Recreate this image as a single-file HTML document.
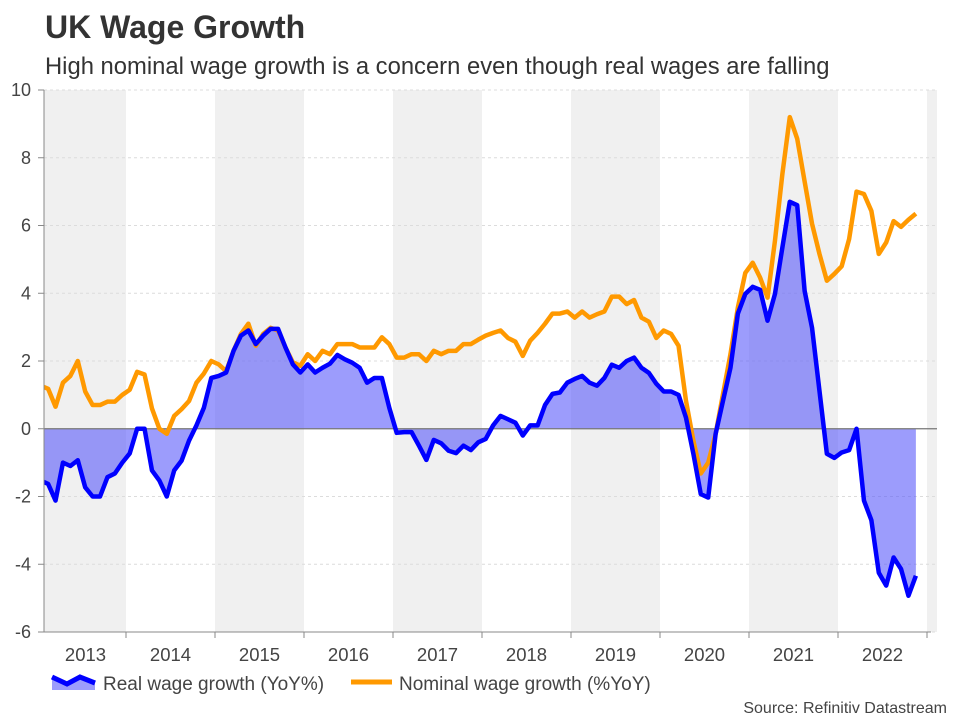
<!DOCTYPE html>
<html><head><meta charset="utf-8"><style>
body{margin:0;background:#fff;width:960px;height:720px;overflow:hidden;font-family:"Liberation Sans",Arial,sans-serif}
</style></head><body>
<svg id="chart" width="960" height="720" xmlns="http://www.w3.org/2000/svg" font-family="Liberation Sans, Arial, sans-serif">
<text x="45" y="38" font-size="32" font-weight="bold" fill="#333">UK Wage Growth</text>
<text x="45" y="74" font-size="23.8" fill="#333">High nominal wage growth is a concern even though real wages are falling</text>
<defs><clipPath id="plotclip"><rect x="44" y="80" width="893" height="560"/></clipPath></defs>
<g id="bands"></g>
<g id="grid"></g>
<g id="series" clip-path="url(#plotclip)"></g>
<g id="axes"></g>
<g>
<g>
<polygon points="52,677 67,684 80,677 95,683 95,690 52,690" fill="rgba(90,90,250,0.6)"/>
<polyline points="52,677 67,684 80,677 95,683" fill="none" stroke="#0000ff" stroke-width="5"/>
<text x="103" y="690" font-size="19" fill="#444">Real wage growth (YoY%)</text></g>
<g>
<line x1="351" y1="682" x2="392" y2="682" stroke="#ff9900" stroke-width="5"/>
<text x="399" y="690" font-size="19" fill="#444">Nominal wage growth (%YoY)</text></g>
</g>
<text x="947" y="713" text-anchor="end" font-size="16" fill="#444">Source: Refinitiv Datastream</text>
</svg>
<script>
const years=[2013,2014,2015,2016,2017,2018,2019,2020,2021,2022];
const yTicks=[-6,-4,-2,0,2,4,6,8,10];
const nominal=[1.27,1.18,0.65,1.36,1.56,2.0,1.1,0.7,0.7,0.8,0.8,1.0,1.15,1.68,1.6,0.6,0.0,-0.15,0.38,0.58,0.82,1.36,1.63,2.0,1.9,1.7,2.3,2.8,3.1,2.45,2.8,2.98,2.9,2.4,1.96,1.86,2.2,2.0,2.3,2.2,2.5,2.5,2.5,2.4,2.4,2.4,2.7,2.5,2.1,2.1,2.2,2.2,2.0,2.3,2.2,2.3,2.3,2.5,2.5,2.63,2.75,2.83,2.9,2.68,2.57,2.15,2.6,2.83,3.1,3.4,3.4,3.46,3.28,3.46,3.28,3.38,3.46,3.9,3.9,3.68,3.8,3.28,3.16,2.68,2.9,2.8,2.45,0.83,-0.35,-1.32,-1.0,-0.15,1.03,2.2,3.58,4.6,4.9,4.46,3.87,5.55,7.52,9.2,8.56,7.3,6.05,5.16,4.37,4.57,4.8,5.6,7.0,6.93,6.43,5.16,5.5,6.13,5.96,6.17,6.35];
const real=[-1.53,-1.63,-2.12,-1.0,-1.1,-0.93,-1.73,-2.0,-2.0,-1.43,-1.32,-1.0,-0.73,0,0,-1.23,-1.53,-2.0,-1.23,-0.94,-0.35,0.1,0.62,1.5,1.56,1.66,2.3,2.75,2.9,2.5,2.75,2.95,2.95,2.4,1.9,1.66,1.9,1.66,1.8,1.92,2.18,2.05,1.95,1.8,1.36,1.5,1.5,0.62,-0.12,-0.1,-0.1,-0.5,-0.92,-0.33,-0.43,-0.65,-0.72,-0.5,-0.63,-0.4,-0.3,0.1,0.38,0.28,0.18,-0.2,0.1,0.1,0.7,1.03,1.07,1.36,1.47,1.56,1.36,1.27,1.5,1.89,1.8,2.0,2.1,1.8,1.65,1.33,1.1,1.1,1.0,0.33,-0.74,-1.93,-2.03,-0.15,0.83,1.8,3.4,3.98,4.19,4.1,3.19,3.98,5.35,6.7,6.6,4.07,2.98,1.12,-0.74,-0.86,-0.7,-0.63,0,-2.12,-2.7,-4.25,-4.63,-3.8,-4.14,-4.93,-4.34];
const NS="http://www.w3.org/2000/svg";
const L=44,R=937,T=90,B=632,yMin=-6,yMax=10,yearW=89,x0=126-89;
const xm=m=>x0+(m+0.5)*yearW/12;
const yv=v=>T+(yMax-v)/(yMax-yMin)*(B-T);
function mk(tag,attrs,parent){const e=document.createElementNS(NS,tag);for(const k in attrs)e.setAttribute(k,attrs[k]);parent.appendChild(e);return e;}
const bands=document.getElementById('bands'),grid=document.getElementById('grid'),series=document.getElementById('series'),axes=document.getElementById('axes');
years.concat([2023]).forEach((yr,i)=>{
  if(i%2===0){const a=Math.max(L,x0+i*yearW),b=Math.min(R,x0+(i+1)*yearW);
    const r=mk('rect',{x:a,y:T,width:b-a,height:B-T,fill:'#f0f0f0'},bands);
    
    }
});
yTicks.forEach(v=>{
  const y=yv(v);
  if(v!==0){const g=mk('line',{x1:L,x2:R,y1:y,y2:y,stroke:'#dcdcdc','stroke-dasharray':'3,3','stroke-width':1},grid);
    
    }
  const t=mk('line',{x1:L-6,x2:L,y1:y,y2:y,stroke:'#888'},axes);
  
  
  const lb=mk('text',{x:31,y:y+6,'text-anchor':'end','font-size':18,fill:'#444'},axes);lb.textContent=v;
  
  
});
let d='M'+xm(0)+','+yv(0);
real.forEach((v,i)=>{d+=' L'+xm(i)+','+yv(v);});
d+=' L'+xm(real.length-1)+','+yv(0)+' Z';
const area=mk('path',{d:d,fill:'rgba(90,90,250,0.6)'},series);


const zl=mk('line',{x1:L,x2:R,y1:yv(0),y2:yv(0),stroke:'#777','stroke-width':1.2},series);


const pl=(arr,col,name)=>{const p=mk('polyline',{points:arr.map((v,i)=>xm(i)+','+yv(v)).join(' '),fill:'none',stroke:col,'stroke-width':4.5,'stroke-linejoin':'round'},series);
  
  };
pl(nominal,'#ff9900','nominal-wage-line');
pl(real,'#0000ff','real-wage-line');
const ax=mk('line',{x1:L,x2:L,y1:T,y2:B,stroke:'#888'},axes);


const bx=mk('line',{x1:L-6,x2:R-6,y1:B,y2:B,stroke:'#888'},axes);


years.forEach((yr,i)=>{
  const xe=x0+(i+1)*yearW;
  const tk=mk('line',{x1:xe,x2:xe,y1:B,y2:B+6,stroke:'#888'},axes);
  
  
  const lb=mk('text',{x:x0+(i+0.5)*yearW+(i===0?4:0),y:B+29,'text-anchor':'middle','font-size':18.5,fill:'#444'},axes);lb.textContent=yr;
  
  
});
</script>
</body></html>
